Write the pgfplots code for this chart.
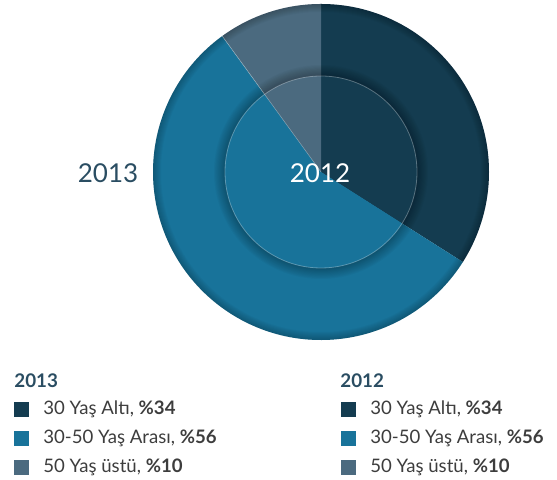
\documentclass[border=0pt]{standalone}
\usepackage{pgfplots}
\usepackage{pgfplotstable}
\pgfplotsset{compat=1.18}
\usepackage{fontspec}
\setmainfont{Lato}

\definecolor{young}{HTML}{143C50}
\definecolor{middle}{HTML}{18739A}
\definecolor{senior}{HTML}{4B6A7F}
\definecolor{yeartxt}{HTML}{2A4D62}
\definecolor{legtxt}{HTML}{3D3D3D}

% shares, in per cent: under 30, 30-50, over 50
\pgfplotstableread{
share
34
56
10
}\outerdata % 2013
\pgfplotstableread{
share
34
56
10
}\innerdata % 2012

\pgfplotstablegetelem{0}{share}\of\outerdata \let\oA\pgfplotsretval
\pgfplotstablegetelem{1}{share}\of\outerdata \let\oB\pgfplotsretval
\pgfplotstablegetelem{0}{share}\of\innerdata \let\iA\pgfplotsretval
\pgfplotstablegetelem{1}{share}\of\innerdata \let\iB\pgfplotsretval
\pgfmathsetmacro\oAend{90-3.6*\oA}
\pgfmathsetmacro\oBend{\oAend-3.6*\oB}
\pgfmathsetmacro\iAend{90-3.6*\iA}
\pgfmathsetmacro\iBend{\iAend-3.6*\iB}

\begin{document}
\begin{tikzpicture}
\begin{axis}[
    x=0.5pt, y=0.5pt,
    xmin=0, xmax=557,
    ymin=0, ymax=480,
    hide axis,
    clip=false,
]
\path (axis cs:0,0) rectangle (axis cs:557,480);
\coordinate (c) at (axis cs:321,308);
% 2013, outer ring
\fill[young] (axis cs:321,308) -- ++(90:84pt) arc[start angle=90, end angle=\oAend, radius=84pt] -- cycle;
\fill[middle] (axis cs:321,308) -- ++(\oAend:84pt) arc[start angle=\oAend, end angle=\oBend, radius=84pt] -- cycle;
\fill[senior] (axis cs:321,308) -- ++(\oBend:84pt) arc[start angle=\oBend, end angle=-270, radius=84pt] -- cycle;
\end{axis}

% soft edges of the ring
\foreach \k in {1,...,10}
  \fill[black, opacity=0.028, even odd rule] (c) circle (48pt) (c) circle ({48pt+\k*0.55pt});
\foreach \k in {1,...,8}
  \fill[black, opacity=0.028, even odd rule] (c) circle (84pt) (c) circle ({84pt-\k*0.5pt});
\draw[white, opacity=0.35, line width=0.3pt] (c) -- ++(\oBend:84pt);

\begin{axis}[
    x=0.5pt, y=0.5pt,
    xmin=0, xmax=557,
    ymin=0, ymax=480,
    hide axis,
    clip=false,
]
% 2012, inner pie
\fill[young] (axis cs:321,308) -- ++(90:48pt) arc[start angle=90, end angle=\iAend, radius=48pt] -- cycle;
\fill[middle] (axis cs:321,308) -- ++(\iAend:48pt) arc[start angle=\iAend, end angle=\iBend, radius=48pt] -- cycle;
\fill[senior] (axis cs:321,308) -- ++(\iBend:48pt) arc[start angle=\iBend, end angle=-270, radius=48pt] -- cycle;
\draw[white, opacity=0.3, line width=0.4pt] (axis cs:321,308) circle (48pt);
\draw[white, opacity=0.3, line width=0.3pt] (axis cs:321,308) -- ++(\iBend:48pt);

\node[font=\fontsize{13}{15}\selectfont, text=yeartxt] at (axis cs:108,307) {2013};
\node[font=\fontsize{13}{15}\selectfont, text=white] at (axis cs:320,307) {2012};

% legends
\node[anchor=west, font=\fontsize{9.4}{11}\selectfont\bfseries, text=yeartxt, inner sep=0pt] at (axis cs:14,99) {2013};
\node[anchor=west, font=\fontsize{9.4}{11}\selectfont\bfseries, text=yeartxt, inner sep=0pt] at (axis cs:340,99) {2012};
\fill[young]  (axis cs:14,63) rectangle (axis cs:29,78);
\fill[middle] (axis cs:14,34) rectangle (axis cs:29,49);
\fill[senior] (axis cs:14,5)  rectangle (axis cs:29,20);
\fill[young]  (axis cs:341,63) rectangle (axis cs:356,78);
\fill[middle] (axis cs:341,34) rectangle (axis cs:356,49);
\fill[senior] (axis cs:341,5)  rectangle (axis cs:356,20);
\pgfplotsinvokeforeach{43,370}{
  \node[anchor=west, inner sep=0pt, text=legtxt, font=\fontsize{9.3}{11}\selectfont] at (axis cs:#1,70.5) {30 Yaş Altı, \textbf{\%34}};
  \node[anchor=west, inner sep=0pt, text=legtxt, font=\fontsize{9.3}{11}\selectfont] at (axis cs:#1,41.5) {30-50 Yaş Arası, \textbf{\%56}};
  \node[anchor=west, inner sep=0pt, text=legtxt, font=\fontsize{9.3}{11}\selectfont] at (axis cs:#1,12.5) {50 Yaş üstü, \textbf{\%10}};
}
\end{axis}
\end{tikzpicture}
\end{document}
